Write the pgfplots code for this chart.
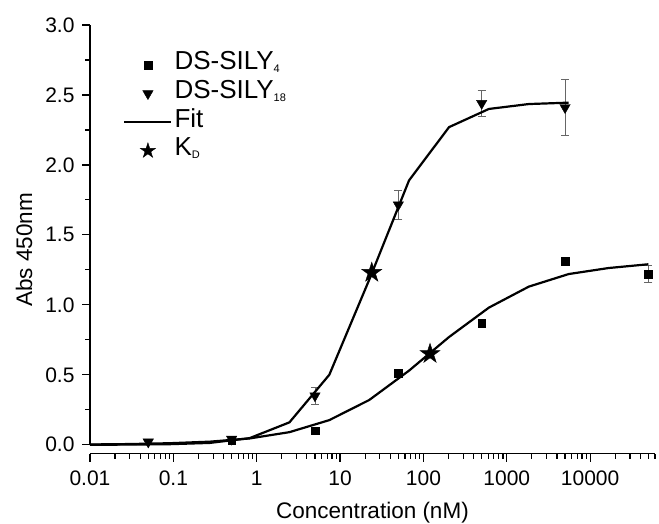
\documentclass[border=0pt]{standalone}
\usepackage{fontspec}
\setmainfont{Liberation Sans}
\usepackage{pgfplots}
\pgfplotsset{compat=1.18}
\newcommand{\fs}{\fontsize{21bp}{25bp}\selectfont}
\newcommand{\lfs}{\fontsize{22.5bp}{27bp}\selectfont}
\newcommand{\gfs}{\fontsize{26bp}{30bp}\selectfont}
\newcommand{\sub}[1]{\raisebox{-3bp}{\fontsize{11bp}{13bp}\selectfont #1}}
\pgfdeclareplotmark{fstar}{%
  \pgfpathmoveto{\pgfpointpolar{90}{\pgfplotmarksize}}%
  \pgfpathlineto{\pgfpointpolar{126}{0.382\pgfplotmarksize}}%
  \pgfpathlineto{\pgfpointpolar{162}{\pgfplotmarksize}}%
  \pgfpathlineto{\pgfpointpolar{198}{0.382\pgfplotmarksize}}%
  \pgfpathlineto{\pgfpointpolar{234}{\pgfplotmarksize}}%
  \pgfpathlineto{\pgfpointpolar{270}{0.382\pgfplotmarksize}}%
  \pgfpathlineto{\pgfpointpolar{306}{\pgfplotmarksize}}%
  \pgfpathlineto{\pgfpointpolar{342}{0.382\pgfplotmarksize}}%
  \pgfpathlineto{\pgfpointpolar{18}{\pgfplotmarksize}}%
  \pgfpathlineto{\pgfpointpolar{54}{0.382\pgfplotmarksize}}%
  \pgfpathclose
  \pgfusepathqfillstroke
}
\pgfplotsset{
  legline/.style={legend image code/.code={\draw[##1] (0bp,0bp) -- (47bp,0bp);}},
  legmark/.style={legend image code/.code={\draw[mark repeat=2,mark phase=2,##1] plot coordinates {(0bp,0bp) (23.5bp,0bp) (47bp,0bp)};}},
  legstar/.style={legend image code/.code={\draw[mark repeat=2,mark phase=2,##1,mark size=8bp] plot coordinates {(0bp,0bp) (23.5bp,0bp) (47bp,0bp)};}},
}
\begin{document}
\begin{tikzpicture}
\useasboundingbox (-90bp,-70.3bp) rectangle (569bp,453.7bp);
\begin{axis}[
  at={(0,0)}, anchor=south west,
  scale only axis, width=565bp, height=428.7bp,
  xmode=log, xmin=0.01, xmax=60000,
  ymin=-0.064, ymax=3.0,
  clip=false,
  axis lines*=left,
  axis line style={-, line width=1.2bp},
  y axis line style={draw=none},
  tick align=outside,
  major tick length=8bp, minor tick length=5bp,
  every tick/.style={black, line width=1.2bp},
  xtick={0.01,0.1,1,10,100,1000,10000},
  xticklabels={0.01,0.1,1,10,100,1000,10000},
  minor xtick={0.02,0.03,0.04,0.05,0.06,0.07,0.08,0.09,0.2,0.3,0.4,0.5,0.6,0.7,0.8,0.9,2,3,4,5,6,7,8,9,20,30,40,50,60,70,80,90,200,300,400,500,600,700,800,900,2000,3000,4000,5000,6000,7000,8000,9000,20000,30000,40000,50000,60000},
  ytick={0,0.5,1,1.5,2,2.5,3},
  minor ytick={0.25,0.75,1.25,1.75,2.25,2.75},
  yticklabel style={/pgf/number format/fixed, /pgf/number format/fixed zerofill, /pgf/number format/precision=1, anchor=east, xshift=-4bp},
  /pgf/number format/assume math mode=true,
  tick label style={font=\fs},
  xticklabel style={anchor=base, yshift=-24bp},
  every axis y label/.style={at={(axis description cs:-0.1168,0.475)}, rotate=90, anchor=center, font=\lfs},
  every axis x label/.style={at={(axis description cs:0.5,0)}, anchor=base, yshift=-65bp, font=\lfs},
  xlabel={Concentration (nM)},
  ylabel={Abs 450nm},
  legend style={draw=none, fill=none, at={(axis description cs:0.059,0.9277)}, anchor=north west, font=\gfs,
    inner sep=0pt, outer sep=0pt, column sep=2bp, row sep=10.6bp,
    nodes={inner sep=0pt, text height=14bp, text depth=4bp}},
  legend cell align=left,
]
\addplot[legmark, only marks, mark=square*, mark size=3.8bp, black,
  error bars/.cd, y dir=both, y explicit,
  error bar style={black!60, line width=0.8bp},
  error mark options={rotate=90, black!60, line width=0.8bp, mark size=4bp}]
  coordinates {
  (0.5,0.03) +- (0,0.01)
  (5,0.10) +- (0,0.02)
  (50,0.51) +- (0,0.02)
  (500,0.87) +- (0,0.02)
  (5000,1.31) +- (0,0.02)
  (50000,1.22) +- (0,0.06)
  };
\addlegendentry{\gfs DS-SILY\sub{4}}
\addplot[legmark, only marks, mark=triangle*, mark size=6bp, mark options={rotate=180}, black,
  error bars/.cd, y dir=both, y explicit,
  error bar style={black!60, line width=0.8bp},
  error mark options={rotate=90, black!60, line width=0.8bp, mark size=4bp}]
  coordinates {
  (0.05,0.02) +- (0,0.02)
  (0.5,0.04) +- (0,0.02)
  (5,0.35) +- (0,0.06)
  (50,1.715) +- (0,0.105)
  (500,2.44) +- (0,0.09)
  (5000,2.41) +- (0,0.20)
  };
\addlegendentry{\gfs DS-SILY\sub{18}}
\addplot[legline, black, line width=2.2bp, no marks] coordinates {
  (0.01,0.000) (0.0301,0.001) (0.0906,0.004) (0.273,0.013) (0.820,0.047)
  (2.47,0.16) (7.43,0.50) (22.4,1.18) (67.3,1.89) (203,2.27) (610,2.40)
  (1836,2.435) (5527,2.445)
};
\addlegendentry{\gfs Fit}
\addplot[black, line width=2.2bp, no marks, forget plot] coordinates {
  (0.01,0.002) (0.0301,0.005) (0.0906,0.011) (0.273,0.022) (0.820,0.045)
  (2.47,0.09) (7.43,0.176) (22.4,0.32) (67.3,0.53) (203,0.77) (610,0.98)
  (1836,1.13) (5527,1.22) (16636,1.263) (50000,1.29)
};
\addplot[legstar, only marks, mark=fstar, mark size=10.5bp, black] coordinates {
  (24,1.23) (120,0.65)
};
\addlegendentry{\gfs K\sub{D}}
\draw[line width=1.2bp] (axis cs:0.01,0) -- (axis cs:0.01,3);
\end{axis}
\end{tikzpicture}
\end{document}
